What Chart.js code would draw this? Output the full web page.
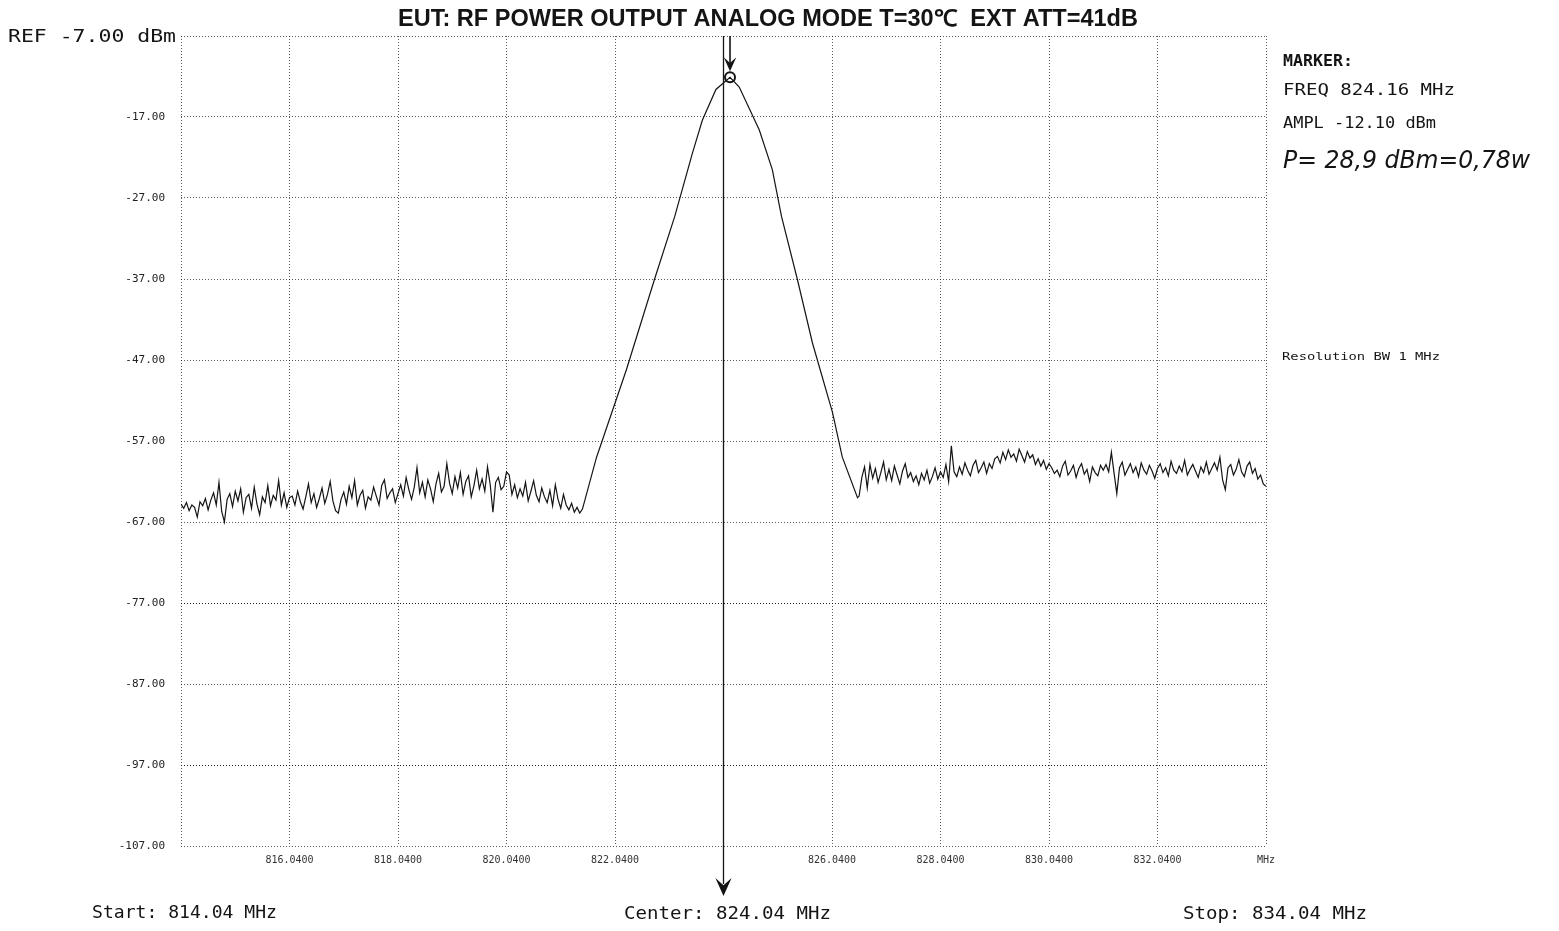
<!DOCTYPE html>
<html>
<head>
<meta charset="utf-8">
<script src="https://cdn.jsdelivr.net/npm/chart.js@4.4.1/dist/chart.umd.min.js"></script>
<style>
  html, body { margin: 0; padding: 0; background: #fff; }
  #wrap { width: 1559px; height: 931px; }
</style>
</head>
<body>
<div id="wrap"><canvas id="spec" width="1559" height="931"></canvas></div>
<script>
// Sweep settings (MHz / dBm)
const startFreq = 814.04;
const centerFreq = 824.04;
const stopFreq = 834.04;
const refLevel = -7.0;
const bottomLevel = -107.0;
const noiseStep = 0.05;

// Marker readout
const markerFreq = 824.16;
const markerAmpl = -12.10;
const measuredPower = 'P= 28,9 dBm=0,78w';
const resolutionBw = 'Resolution BW 1 MHz';

// Axis ticks
const xTickValues = [814.04, 816.04, 818.04, 820.04, 822.04, 824.04, 826.04, 828.04, 830.04, 832.04, 834.04];
const xTickLabels = ['', '816.0400', '818.0400', '820.0400', '822.0400', '', '826.0400', '828.0400', '830.0400', '832.0400', 'MHz'];
const yTickValues = [-107, -97, -87, -77, -67, -57, -47, -37, -27, -17, -7];

// Noise floor below the carrier, sampled every 0.05 MHz from 814.04 MHz
const lowerNoise = [
  -64.8, -65.3, -64.6, -65.6, -64.9, -65.2, -66.4, -64.5, -65.0, -64.1,
  -65.5, -64.3, -63.4, -64.9, -62.1, -65.7, -67.0, -64.2, -63.5, -65.1,
  -63.2, -64.4, -62.9, -65.8, -64.0, -63.6, -65.3, -62.7, -64.8, -66.1,
  -63.9, -64.6, -62.5, -65.0, -63.7, -64.3, -61.9, -64.9, -63.4, -65.2,
  -64.0,
  -63.8, -64.9, -63.2, -64.5, -65.4, -63.9, -62.3, -64.6, -63.5, -65.2,
  -64.1, -62.8, -64.7, -63.6, -62.0, -64.4, -65.6, -65.9, -64.2, -63.3,
  -64.8, -62.6, -64.0, -61.9, -64.9, -63.7, -63.1, -65.3, -63.9, -64.3,
  -62.7, -63.8, -64.9, -62.5, -61.8, -64.1, -63.4, -62.9, -64.6, -63.5,
  -62.4, -63.8, -61.5, -63.0, -64.2, -62.7, -60.3, -63.4, -62.1, -63.9,
  -61.8, -62.9, -64.5, -62.3, -61.0, -63.3, -62.6, -59.8, -62.2, -63.5,
  -61.4, -62.8, -60.9, -63.6, -62.0, -61.3, -63.9, -62.5, -60.6, -62.9,
  -61.7, -63.2, -60.2, -62.4, -65.8, -62.1, -61.5, -63.0, -62.6, -60.8,
  -61.2, -63.6, -62.4, -64.0, -62.9, -63.8, -62.1, -64.4, -63.2, -61.9,
  -63.7, -64.5, -62.8, -63.9, -64.6, -63.1, -65.0, -62.4, -64.2, -65.3,
  -63.6, -64.9, -65.5, -64.7, -65.8, -65.2, -65.9, -65.4
];

// Carrier skirt: frequency / level pairs
const carrierFreqs = [821.70, 822.25, 822.77, 823.14, 823.47, 823.65, 823.90, 824.16,
                      824.33, 824.70, 824.94, 825.11, 825.40, 825.68, 826.05, 826.23, 826.51];
const carrierLevels = [-59.0, -48.2, -37.0, -29.3, -21.4, -17.4, -13.6, -12.1,
                       -13.3, -18.6, -23.5, -29.3, -37.0, -44.9, -53.5, -59.0, -64.0];

// Noise floor above the carrier, sampled every 0.05 MHz from 826.54 MHz
const upperStart = 826.54;
const upperNoise = [
  -63.8, -61.5, -60.2, -62.8, -59.9, -61.6, -60.4, -62.1, -60.9, -59.6, -61.8,
  -60.5, -61.9, -60.1, -61.2, -62.3, -60.7, -59.8, -61.5, -60.9, -62.0,
  -61.3, -62.4, -61.0, -61.8, -60.6, -62.2, -61.4, -60.3, -61.7, -60.8,
  -61.5, -59.9, -62.0, -57.6, -60.8, -61.4, -60.2, -61.1, -59.7, -60.6,
  -61.3, -60.0, -59.4, -60.9, -60.3, -59.6, -61.0, -59.8, -60.4, -59.2,
  -58.9, -59.7, -58.4, -59.3, -58.1, -59.0, -58.6, -59.5, -58.0, -58.8,
  -59.6, -58.3, -59.1, -58.7, -59.9, -59.2, -60.1, -59.4, -60.5, -59.8,
  -60.3, -61.0, -60.6, -61.4, -60.1, -59.5, -61.2, -60.7, -60.0, -61.5,
  -60.4, -59.8, -61.1, -60.5, -62.0, -60.2, -60.9, -61.3, -60.0, -60.6,
  -59.9, -60.8, -58.4, -61.0, -63.5, -60.3, -59.6, -61.2, -60.5, -59.8,
  -60.9, -60.2, -61.4, -59.7, -60.6, -61.1, -60.0, -60.7, -61.6, -60.4,
  -59.8, -60.9, -60.3, -61.3, -59.5, -60.6, -61.0, -60.1, -60.8, -59.4,
  -61.2, -60.5, -59.9, -60.7, -61.5, -60.2, -60.9, -59.6, -61.1, -60.4,
  -59.7, -60.6, -59.0, -61.8, -63.0, -60.3, -59.9, -61.2, -60.5, -59.3,
  -60.8, -61.4, -60.1, -59.6, -61.0, -60.4, -61.7, -61.2, -62.3, -62.6
];

// Assemble the trace as x/y points
const trace = [];
lowerNoise.forEach((v, i) => trace.push({ x: +(startFreq + i * noiseStep).toFixed(2), y: v }));
carrierFreqs.forEach((f, i) => trace.push({ x: f, y: carrierLevels[i] }));
upperNoise.forEach((v, i) => trace.push({ x: +(upperStart + i * noiseStep).toFixed(2), y: v }));

const INK = '#141414';
const MONO = '"DejaVu Sans Mono", "Liberation Mono", monospace';

// Draw text squeezed/stretched horizontally to a given width
function fitText(ctx, text, x, y, width, font, align) {
  ctx.save();
  ctx.font = font;
  const w = ctx.measureText(text).width;
  ctx.translate(x, y);
  ctx.scale(width / w, 1);
  ctx.textBaseline = 'middle';
  ctx.textAlign = 'left';
  ctx.fillStyle = INK;
  ctx.fillText(text, align === 'center' ? -w / 2 : 0, 0);
  ctx.restore();
}

function arrowHead(ctx, x, tipY, size) {
  ctx.beginPath();
  ctx.moveTo(x, tipY);
  ctx.lineTo(x - size * 0.45, tipY - size);
  ctx.lineTo(x, tipY - size * 0.6);
  ctx.lineTo(x + size * 0.45, tipY - size);
  ctx.closePath();
  ctx.fill();
}

const annotations = {
  id: 'analyzerText',
  afterDatasetsDraw(chart) {
    const ctx = chart.ctx;
    const xs = chart.scales.x, ys = chart.scales.y;
    const top = chart.chartArea.top;
    ctx.save();
    ctx.strokeStyle = INK;
    ctx.fillStyle = INK;
    // center frequency line with arrow below the grid
    const cx = xs.getPixelForValue(centerFreq);
    ctx.lineWidth = 1.3;
    ctx.beginPath();
    ctx.moveTo(cx, top);
    ctx.lineTo(cx, 884);
    ctx.stroke();
    arrowHead(ctx, cx, 896, 18);
    // marker arrow pointing at the marker circle
    const mx = xs.getPixelForValue(markerFreq);
    const my = ys.getPixelForValue(markerAmpl);
    ctx.lineWidth = 1.6;
    ctx.beginPath();
    ctx.moveTo(mx, top);
    ctx.lineTo(mx, my - 12);
    ctx.stroke();
    arrowHead(ctx, mx, my - 6, 14);
    ctx.restore();
  },
  afterDraw(chart) {
    const ctx = chart.ctx;
    fitText(ctx, 'EUT: RF POWER OUTPUT ANALOG MODE T=30\u2103  EXT ATT=41dB', 768, 20, 740,
      'bold 23px "Liberation Sans", Arial, sans-serif', 'center');
    fitText(ctx, 'REF ' + refLevel.toFixed(2) + ' dBm', 8, 37, 168, '18px ' + MONO);
    fitText(ctx, 'MARKER:', 1283, 62, 70, 'bold 15px ' + MONO);
    fitText(ctx, 'FREQ ' + markerFreq.toFixed(2) + ' MHz', 1283, 91, 172, '16px ' + MONO);
    fitText(ctx, 'AMPL ' + markerAmpl.toFixed(2) + ' dBm', 1283, 124, 153, '16px ' + MONO);
    fitText(ctx, measuredPower, 1283, 161, 247, 'italic 25px "DejaVu Sans", sans-serif');
    fitText(ctx, resolutionBw, 1282, 357, 158, '11px ' + MONO);
    fitText(ctx, 'Start: ' + startFreq.toFixed(2) + ' MHz', 92, 914, 185, '17px ' + MONO);
    fitText(ctx, 'Center: ' + centerFreq.toFixed(2) + ' MHz', 624, 915, 207, '17px ' + MONO);
    fitText(ctx, 'Stop: ' + stopFreq.toFixed(2) + ' MHz', 1183, 915, 184, '17px ' + MONO);
  }
};

const gridColor = 'rgba(20,20,20,0.7)';

new Chart(document.getElementById('spec'), {
  type: 'scatter',
  data: {
    datasets: [
      {
        data: trace,
        showLine: true,
        borderColor: INK,
        borderWidth: 1.2,
        pointRadius: 0,
        tension: 0
      },
      {
        data: [{ x: markerFreq, y: markerAmpl }],
        showLine: false,
        pointRadius: 5,
        pointBorderWidth: 2,
        pointBorderColor: INK,
        pointBackgroundColor: 'rgba(255,255,255,0)'
      }
    ]
  },
  options: {
    responsive: false,
    animation: false,
    devicePixelRatio: 1,
    layout: { padding: { left: 0, right: 293, top: 36, bottom: 51 } },
    plugins: { legend: { display: false }, tooltip: { enabled: false } },
    scales: {
      x: {
        type: 'linear',
        min: startFreq,
        max: stopFreq,
        afterBuildTicks: s => { s.ticks = xTickValues.map(v => ({ value: v })); },
        afterFit: s => { s.height = 34; },
        ticks: {
          autoSkip: false,
          maxRotation: 0,
          padding: 8,
          color: '#333',
          font: { family: MONO, size: 10 },
          callback: (v, i) => xTickLabels[i]
        },
        grid: {
          drawTicks: false,
          color: gridColor,
          lineWidth: 1
        },
        border: { display: false, dash: [1, 2] }
      },
      y: {
        type: 'linear',
        min: bottomLevel,
        max: refLevel,
        afterBuildTicks: s => { s.ticks = yTickValues.map(v => ({ value: v })); },
        afterFit: s => { s.width = 181; },
        ticks: {
          padding: 16,
          color: '#222',
          font: { family: MONO, size: 11 },
          callback: v => (v === refLevel ? '' : v.toFixed(2))
        },
        grid: {
          drawTicks: false,
          color: ctx => (ctx.tick && (ctx.tick.value === -77 || ctx.tick.value === -97)) ? 'rgba(10,10,10,0.9)' : gridColor,
          lineWidth: 1
        },
        border: { display: false, dash: [1, 2] }
      }
    }
  },
  plugins: [annotations]
});
</script>
</body>
</html>
